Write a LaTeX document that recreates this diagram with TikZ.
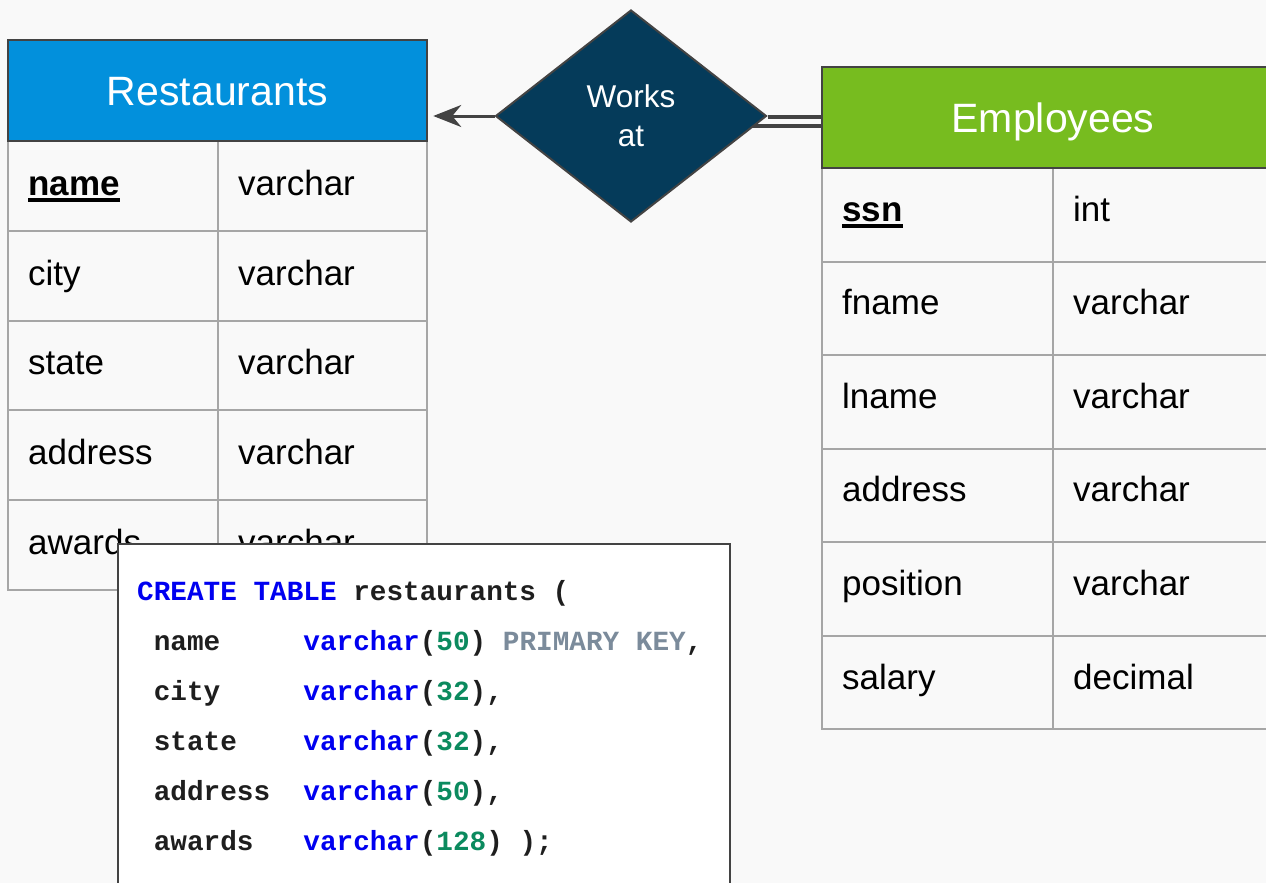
\documentclass[tikz,border=0pt]{standalone}
\usepackage{fontspec}
\setmainfont{Liberation Sans}
\setmonofont{Liberation Mono}
\usetikzlibrary{shapes.geometric,arrows.meta}
\definecolor{bgc}{HTML}{F9F9F9}
\definecolor{restblue}{HTML}{0290DC}
\definecolor{empgreen}{HTML}{77BC1F}
\definecolor{navy}{HTML}{053B5A}
\definecolor{edgegray}{HTML}{434343}
\definecolor{gridgray}{HTML}{A6A6A6}
\definecolor{kwblue}{HTML}{0000F0}
\definecolor{numgreen}{HTML}{0B8A5E}
\definecolor{pkgray}{HTML}{7B8B9B}
\definecolor{codeblack}{HTML}{1E1E1E}
\pgfdeclarelayer{edges}
\pgfsetlayers{edges,main}
\newcommand\pkul[1]{\setbox0\hbox{#1}\rlap{\rule[-7pt]{\wd0}{4.5pt}}\box0}
\newcommand\kw[1]{\textcolor{kwblue}{#1}}
\newcommand\nm[1]{\textcolor{numgreen}{#1}}
\newcommand\pk[1]{\textcolor{pkgray}{#1}}
\begin{document}
\begin{tikzpicture}[x=1pt,y=-1pt,
  hdr/.style={draw=edgegray, line width=2.5pt, inner sep=0pt, text=white,
    font=\fontsize{41}{48}\selectfont, text height=29.4pt, text depth=0pt},
  gridline/.style={draw=gridgray, line width=2pt},
  cell/.style={anchor=base west, inner sep=0pt, text=black, font=\fontsize{35}{40}\selectfont},
  conn/.style={draw=edgegray, line width=3pt},
  conntwo/.style={draw=edgegray, line width=4pt},
  codeline/.style={anchor=base west, inner sep=0pt, text=codeblack, font=\fontsize{27.7}{30}\selectfont\ttfamily\bfseries}
]
\useasboundingbox (0,0) rectangle (1266,883);
\clip (0,0) rectangle (1266,883);
\begin{pgfonlayer}{edges}
\fill[bgc] (0,0) rectangle (1266,883);
\end{pgfonlayer}

% Restaurants table grid
\draw[gridline] (8,141) rectangle (427,590);
\foreach \yy in {231,321,410,500} \draw[gridline] (8,\yy) -- (427,\yy);
\draw[gridline] (218,141) -- (218,590);
\node[hdr, fill=restblue, minimum width=419pt, minimum height=101pt] (rest) at (217.5,90.5) {Restaurants};
\node[cell] (r1a) at (28,195) {\textbf{\pkul{name}}};
\node[cell] (r1b) at (238,195) {varchar};
\node[cell] (r2a) at (28,285) {city};
\node[cell] (r2b) at (238,285) {varchar};
\node[cell] (r3a) at (28,374) {state};
\node[cell] (r3b) at (238,374) {varchar};
\node[cell] (r4a) at (28,464) {address};
\node[cell] (r4b) at (238,464) {varchar};
\node[cell] (r5a) at (28,554) {awards};
\node[cell] (r5b) at (238,554) {varchar};

% Employees table grid
\draw[gridline] (822,168) rectangle (1284,729);
\foreach \yy in {262,355,449,542,636} \draw[gridline] (822,\yy) -- (1284,\yy);
\draw[gridline] (1053,168) -- (1053,729);
\node[hdr, fill=empgreen, minimum width=462pt, minimum height=101pt] (emp) at (1053,117.5) {Employees};
\node[cell] (e1a) at (842,221) {\textbf{\pkul{ssn}}};
\node[cell] (e1b) at (1073,221) {int};
\node[cell] (e2a) at (842,314) {fname};
\node[cell] (e2b) at (1073,314) {varchar};
\node[cell] (e3a) at (842,408) {lname};
\node[cell] (e3b) at (1073,408) {varchar};
\node[cell] (e4a) at (842,501) {address};
\node[cell] (e4b) at (1073,501) {varchar};
\node[cell] (e5a) at (842,595) {position};
\node[cell] (e5b) at (1073,595) {varchar};
\node[cell] (e6a) at (842,689) {salary};
\node[cell] (e6b) at (1073,689) {decimal};

% Relationship
\node[diamond, draw=edgegray, line width=2pt, fill=navy, minimum width=271pt, minimum height=212pt,
  inner sep=0pt, text=white, align=center, font=\fontsize{31.5}{39}\selectfont] (works) at (631,116) {Works\\at};

\begin{pgfonlayer}{edges}
\draw[conn, -{Stealth[length=28pt,width=22pt,inset=9pt]}, shorten >=5pt] (works.west) -- (works.west -| rest.east);
\draw[conntwo] ([yshift=-1pt]works.east) -- ([yshift=-1pt]works.east -| emp.west);
\draw[conntwo] ([yshift=-10pt]works.center) -- ([yshift=-10pt]works.center -| emp.west);
\end{pgfonlayer}

% SQL code box
\node[draw=edgegray, line width=2pt, fill=white, anchor=north west, minimum width=612pt, minimum height=360pt] (code) at (117,543) {};
\node[codeline] (c1) at (137,600) {\kw{CREATE}~\kw{TABLE}~restaurants~(};
\node[codeline] (c2) at (137,650) {~name~~~~~\kw{varchar}(\nm{50})~\pk{PRIMARY}~\pk{KEY},};
\node[codeline] (c3) at (137,700) {~city~~~~~\kw{varchar}(\nm{32}),};
\node[codeline] (c4) at (137,750) {~state~~~~\kw{varchar}(\nm{32}),};
\node[codeline] (c5) at (137,800) {~address~~\kw{varchar}(\nm{50}),};
\node[codeline] (c6) at (137,850) {~awards~~~\kw{varchar}(\nm{128})~);};
\end{tikzpicture}
\end{document}
